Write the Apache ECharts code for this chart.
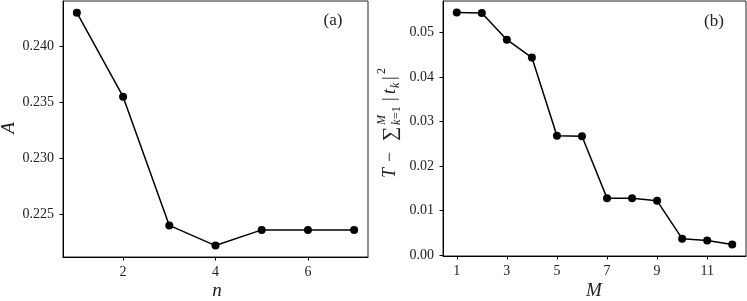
<!DOCTYPE html>
<html><head><meta charset="utf-8">
<script src="https://cdn.jsdelivr.net/npm/echarts@6/dist/echarts.min.js"></script>
<style>html,body{margin:0;padding:0;background:#fff}#c{width:747px;height:301px}</style>
</head><body><div id="c"></div>
<script>
// Panel (a)
const nValues = [1, 2, 3, 4, 5, 6, 7];
const aValues = [0.2430, 0.2355, 0.2240, 0.2222, 0.2236, 0.2236, 0.2236];
const nTicks = [2, 4, 6];
const aTicks = [0.225, 0.230, 0.235, 0.240];
// Panel (b)
const mValues = [1, 2, 3, 4, 5, 6, 7, 8, 9, 10, 11, 12];
const resValues = [0.0545, 0.0544, 0.0484, 0.0444, 0.0268, 0.0267, 0.0128, 0.0128, 0.0122, 0.0037, 0.0033, 0.0024];
const mTicks = [1, 3, 5, 7, 9, 11];
const resTicks = [0.00, 0.01, 0.02, 0.03, 0.04, 0.05];

const FONT = '"Liberation Serif", "DejaVu Serif", serif';
const chart = echarts.init(document.getElementById('c'), null, {renderer: 'canvas'});

function xAxisCfg(idx, min, max, ticks) {
  return {
    type: 'value', gridIndex: idx, min: min, max: max,
    splitLine: {show: false},
    axisLine: {show: true, onZero: false, lineStyle: {color: '#000', width: 1}},
    axisTick: {show: true, length: 3.5, lineStyle: {color: '#000'}, customValues: ticks},
    axisLabel: {customValues: ticks, color: '#222', fontFamily: FONT, fontSize: 14, margin: 8,
      formatter: v => String(v)}
  };
}
function yAxisCfg(idx, min, max, ticks, dec) {
  return {
    type: 'value', gridIndex: idx, min: min, max: max,
    splitLine: {show: false},
    axisLine: {show: true, onZero: false, lineStyle: {color: '#000', width: 1}},
    axisTick: {show: true, length: 3.5, lineStyle: {color: '#000'}, customValues: ticks},
    axisLabel: {customValues: ticks, color: '#222', fontFamily: FONT, fontSize: 14, margin: 9,
      formatter: v => v.toFixed(dec)}
  };
}
function seriesCfg(idx, xs, ys) {
  return {
    type: 'line', xAxisIndex: idx, yAxisIndex: idx,
    data: xs.map((x, i) => [x, ys[i]]),
    symbol: 'circle', symbolSize: 8, showSymbol: true, clip: false,
    lineStyle: {color: '#000', width: 1.5},
    itemStyle: {color: '#000'},
    emphasis: {disabled: true}
  };
}

const labelStyle = {fontFamily: FONT, fill: '#222'};

chart.setOption({
  animation: false,
  backgroundColor: '#fff',
  grid: [
    {left: 63, right: 379, top: 1, bottom: 44, show: true, borderColor: '#222', borderWidth: 1},
    {left: 443, right: 1, top: 1, bottom: 45, show: true, borderColor: '#222', borderWidth: 1}
  ],
  xAxis: [xAxisCfg(0, 0.7, 7.3, nTicks), xAxisCfg(1, 0.45, 12.55, mTicks)],
  yAxis: [yAxisCfg(0, 0.22118, 0.24404, aTicks, 3), yAxisCfg(1, -0.0002, 0.0571, resTicks, 2)],
  series: [seriesCfg(0, nValues, aValues), seriesCfg(1, mValues, resValues)],
  graphic: [
    {type: 'text', x: 333, y: 21, style: Object.assign({text: '(a)', fontSize: 17, align: 'center', verticalAlign: 'middle'}, labelStyle)},
    {type: 'text', x: 714, y: 22, style: Object.assign({text: '(b)', fontSize: 17, align: 'center', verticalAlign: 'middle'}, labelStyle)},
    {type: 'text', x: 217, y: 291, style: Object.assign({text: 'n', fontSize: 19, fontStyle: 'italic', align: 'center', verticalAlign: 'middle'}, labelStyle)},
    {type: 'text', x: 594, y: 291, style: Object.assign({text: 'M', fontSize: 19, fontStyle: 'italic', align: 'center', verticalAlign: 'middle'}, labelStyle)},
    {type: 'text', x: 9, y: 128, rotation: Math.PI / 2, style: Object.assign({text: 'A', fontSize: 19, fontStyle: 'italic', align: 'center', verticalAlign: 'middle'}, labelStyle)},
    {
      type: 'group', x: 390, y: 178, rotation: Math.PI / 2,
      children: [
        {type: 'text', x: 0, y: 0, style: Object.assign({text: 'T', fontSize: 18, fontStyle: 'italic', verticalAlign: 'middle'}, labelStyle)},
        {type: 'text', x: 16, y: 0, style: Object.assign({text: '\u2212', fontSize: 18, verticalAlign: 'middle'}, labelStyle)},
        {type: 'text', x: 37, y: 1, style: Object.assign({text: '\u2211', fontSize: 20, verticalAlign: 'middle'}, labelStyle)},
        {type: 'text', x: 53, y: -8, style: Object.assign({text: 'M', fontSize: 12, fontStyle: 'italic', verticalAlign: 'middle'}, labelStyle)},
        {type: 'text', x: 53, y: 7, style: Object.assign({text: 'k', fontSize: 12, fontStyle: 'italic', verticalAlign: 'middle'}, labelStyle)},
        {type: 'text', x: 59, y: 7, style: Object.assign({text: '=1', fontSize: 12, verticalAlign: 'middle'}, labelStyle)},
        {type: 'text', x: 77, y: 0, style: Object.assign({text: '|', fontSize: 18, verticalAlign: 'middle'}, labelStyle)},
        {type: 'text', x: 84, y: 0, style: Object.assign({text: 't', fontSize: 18, fontStyle: 'italic', verticalAlign: 'middle'}, labelStyle)},
        {type: 'text', x: 90, y: 6, style: Object.assign({text: 'k', fontSize: 12, fontStyle: 'italic', verticalAlign: 'middle'}, labelStyle)},
        {type: 'text', x: 98, y: 0, style: Object.assign({text: '|', fontSize: 18, verticalAlign: 'middle'}, labelStyle)},
        {type: 'text', x: 104, y: -8, style: Object.assign({text: '2', fontSize: 12, verticalAlign: 'middle'}, labelStyle)}
      ]
    }
  ]
});
</script>
</body></html>
